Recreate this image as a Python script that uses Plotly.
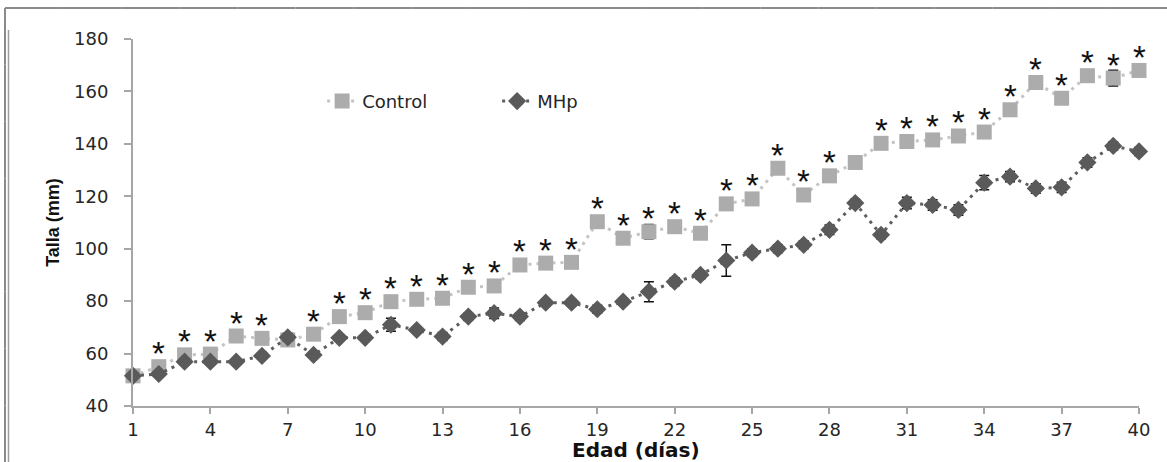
import plotly.graph_objects as go

# Age in days
days = list(range(1, 41))

# Mean body length (mm) per group
control = [51.5, 55.0, 59.5, 59.8, 66.7, 65.8, 65.2, 67.4, 74.1, 75.6,
           79.8, 80.7, 81.1, 85.3, 85.8, 93.8, 94.5, 94.8, 110.3, 104.0,
           106.5, 108.4, 105.9, 117.1, 119.0, 130.7, 120.5, 127.8, 132.9, 140.2,
           140.9, 141.5, 143.0, 144.5, 153.0, 163.4, 157.4, 166.0, 165.1, 168.0]
mhp = [51.5, 52.2, 56.9, 56.9, 56.9, 59.1, 66.2, 59.5, 66.0, 66.0,
       71.0, 69.0, 66.5, 74.1, 75.4, 74.1, 79.4, 79.4, 76.9, 79.8,
       83.6, 87.4, 90.0, 95.5, 98.5, 100.0, 101.5, 107.2, 117.4, 105.3,
       117.4, 116.7, 114.8, 125.2, 127.5, 123.0, 123.4, 132.9, 139.2, 137.1]

# Standard error of the mean
control_err = [0.8, 0.8, 1.0, 1.0, 1.0, 1.0, 1.0, 1.0, 1.0, 1.0,
               1.0, 1.0, 1.0, 1.0, 1.0, 1.0, 1.0, 1.0, 1.2, 1.2,
               2.7, 1.2, 1.2, 1.2, 1.2, 1.5, 1.2, 1.2, 1.2, 1.5,
               1.5, 1.5, 1.5, 1.5, 1.5, 1.5, 1.5, 1.5, 3.0, 1.5]
mhp_err = [1.0, 1.0, 1.2, 1.0, 1.0, 1.2, 1.5, 1.2, 1.2, 1.0,
           2.5, 1.2, 1.5, 1.2, 2.0, 1.5, 1.2, 1.2, 1.5, 1.2,
           3.8, 1.5, 1.5, 6.0, 1.5, 1.5, 1.5, 1.8, 1.5, 1.5,
           2.2, 2.0, 2.0, 2.7, 2.0, 1.8, 2.0, 1.8, 1.5, 1.5]

# Significant difference marker per day
sig = ["", "*", "*", "*", "*", "*", "", "*", "*", "*",
       "*", "*", "*", "*", "*", "*", "*", "*", "*", "*",
       "*", "*", "*", "*", "*", "*", "*", "*", "", "*",
       "*", "*", "*", "*", "*", "*", "*", "*", "*", "*"]

x_ticks = [1, 4, 7, 10, 13, 16, 19, 22, 25, 28, 31, 34, 37, 40]
y_ticks = [40, 60, 80, 100, 120, 140, 160, 180]

TICK_FONT = dict(family="DejaVu Sans", size=18, color="#262626")

# Plot area placement in pixels
PLOT_L, PLOT_W, PLOT_T, PLOT_H = 133, 1006, 39, 367


def px_x(p):
    return (p - PLOT_L) / PLOT_W


def px_y(p):
    return 1 - (p - PLOT_T) / PLOT_H


fig = go.Figure()

fig.add_trace(go.Scatter(
    x=days, y=control, name="Control", mode="lines+markers",
    line=dict(color="#c4c4c4", width=3, dash="3px,5px"),
    marker=dict(symbol="square", size=15, color="#acacac"),
    error_y=dict(type="data", array=control_err, color="#111111",
                 thickness=1.5, width=5),
    cliponaxis=False,
))

fig.add_trace(go.Scatter(
    x=days, y=mhp, name="MHp", mode="lines+markers",
    line=dict(color="#5e5e5e", width=3, dash="3px,5px"),
    marker=dict(symbol="diamond", size=14, color="#5a5a5a"),
    error_y=dict(type="data", array=mhp_err, color="#111111",
                 thickness=1.5, width=5),
    cliponaxis=False,
))

# Significance asterisks above the control means
for d, v, s in zip(days, control, sig):
    if s:
        fig.add_annotation(x=d, y=v, text=s, showarrow=False,
                           yshift=13, xanchor="center", yanchor="middle",
                           font=dict(family="Liberation Sans", size=33,
                                     color="#111111"))

# x-axis title
fig.add_annotation(text="<b>Edad (días)</b>", xref="paper", yref="paper",
                   x=0.5, y=px_y(450), xanchor="center", yanchor="middle",
                   showarrow=False,
                   font=dict(family="DejaVu Sans", size=20, color="#111111"))


def frame_segment(xa, ya, xb, yb, color, width, step=60):
    """Draw a straight frame edge as a chain of short line pieces."""
    length = max(abs(xb - xa), abs(yb - ya))
    n = max(1, int(length // step) + 1)
    for i in range(n):
        t0, t1 = i / n, (i + 1) / n
        fig.add_shape(type="line", xref="paper", yref="paper",
                      x0=px_x(xa + (xb - xa) * t0), x1=px_x(xa + (xb - xa) * t1),
                      y0=px_y(ya + (yb - ya) * t0), y1=px_y(ya + (yb - ya) * t1),
                      line=dict(color=color, width=width))


# Outer frame: top edge and double left edge
frame_segment(5, 8, 1167, 8, "#8a8a8a", 2)
frame_segment(5, 8, 5, 462, "#8a8a8a", 2)
frame_segment(8.5, 30, 8.5, 462, "#9d9d9d", 1.5)

fig.update_layout(
    width=1167, height=462,
    margin=dict(l=PLOT_L, r=1167 - PLOT_L - PLOT_W, t=PLOT_T,
                b=462 - PLOT_T - PLOT_H),
    paper_bgcolor="white", plot_bgcolor="white",
    showlegend=True,
    legend=dict(orientation="h", x=0.188, y=0.83, xanchor="left",
                yanchor="middle", bgcolor="rgba(0,0,0,0)",
                font=dict(family="DejaVu Sans", size=18, color="#262626"),
                entrywidth=130, entrywidthmode="pixels",
                itemclick=False, itemdoubleclick=False),
    xaxis=dict(
        range=[1, 40], tickvals=x_ticks, ticktext=[str(t) for t in x_ticks],
        showgrid=False, zeroline=False, automargin=False,
        showline=True, linecolor="#a6a6a6", linewidth=2,
        ticks="outside", ticklen=6, tickwidth=1.5, tickcolor="#a6a6a6",
        ticklabelstandoff=0,
        tickfont=TICK_FONT,
    ),
    yaxis=dict(
        range=[40, 180], tickvals=y_ticks,
        showgrid=False, zeroline=False, automargin=False,
        showline=True, linecolor="#a6a6a6", linewidth=2,
        ticks="outside", ticklen=7, tickwidth=1.5, tickcolor="#a6a6a6",
        ticklabelstandoff=12,
        tickfont=TICK_FONT,
        title=dict(text="Talla (mm)", standoff=10,
                   font=dict(family="Liberation Sans", size=18,
                             color="#111111", weight="bold")),
    ),
)

fig.write_html("out.html")
